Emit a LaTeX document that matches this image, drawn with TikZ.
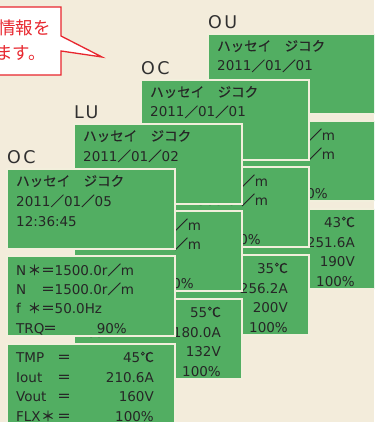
\documentclass[tikz,border=0pt]{standalone}
\usepackage{fontspec}
\setmainfont{DejaVu Sans}
\newfontfamily\jp{Noto Sans CJK JP}[RawFeature={embolden=0.5}]
\newfontfamily\notefont{Noto Sans CJK JP}
\newcommand{\fws}{{\jp ／}}
\newcommand{\fwstar}{{\jp ＊}}
\newcommand{\fweq}{{\jp ＝}}
\newcommand{\degc}{{\jp ℃}}
\definecolor{cream}{HTML}{F3ECDB}
\definecolor{lcdgreen}{HTML}{52AE62}
\definecolor{lcdedge}{HTML}{F2EFDC}
\definecolor{lcdtext}{HTML}{262626}
\definecolor{labeltext}{HTML}{303030}
\definecolor{noteborder}{HTML}{E8262E}
\tikzset{
  panel/.style={fill=lcdgreen,draw=lcdedge,line width=1.5pt},
  lcd/.style={inner sep=0pt,anchor=base west,text=lcdtext,font=\fontsize{13.5}{16}\selectfont},
  lcdval/.style={lcd,anchor=base east},
  stacklabel/.style={inner sep=0pt,anchor=base west,text=labeltext,font=\fontsize{17.5}{20}\selectfont\addfontfeature{LetterSpace=14}},
  notetext/.style={inner sep=0pt,anchor=base east,text=noteborder,font=\fontsize{17.5}{20}\selectfont\notefont}
}
% one stack of three screens: name, x, y, label, date, time, temp, current, voltage
\newcommand{\lcdstack}[9]{%
  \begin{scope}[shift={(#2,#3)}]
    \node[stacklabel] (#1-label) at (0,-5.5) {#4};
    \draw[panel] (0,0) rectangle (168,80);
    \node[lcd] (#1-title) at (9,17) {\jp ハッセイ　ジコク};
    \node[lcd] (#1-date) at (9,37) {#5};
    \node[lcd] (#1-time) at (9,57) {#6};
    \draw[panel] (0,87) rectangle (168,167);
    \node[lcd] (#1-ns) at (9,106) {N};
    \node[lcd] (#1-nsv) at (20.5,106) {\fwstar\fweq 1500.0r\fws m};
    \node[lcd] (#1-n) at (9,125) {N};
    \node[lcd] (#1-nv) at (34,125) {\fweq 1500.0r\fws m};
    \node[lcd] (#1-f) at (9,144) {f};
    \node[lcd] (#1-fv) at (20.5,144) {\fwstar\fweq 50.0Hz};
    \node[lcd] (#1-trq) at (9,164) {TRQ};
    \node[lcd] (#1-trqeq) at (36,164) {\fweq};
    \node[lcdval] (#1-trqv) at (120,164) {90\%};
    \draw[panel] (0,175) rectangle (168,255);
    \node[lcd] (#1-tmp) at (9,193) {TMP};
    \node[lcd] (#1-tmpeq) at (50,193) {\fweq};
    \node[lcdval] (#1-tmpv) at (147,193) {#7};
    \node[lcd] (#1-iout) at (9,213) {Iout};
    \node[lcd] (#1-ioeq) at (50,213) {\fweq};
    \node[lcdval] (#1-iov) at (147,213) {#8};
    \node[lcd] (#1-vout) at (9,232) {Vout};
    \node[lcd] (#1-voeq) at (50,232) {\fweq};
    \node[lcdval] (#1-vov) at (147,232) {#9};
    \node[lcd] (#1-flx) at (9,252) {FLX};
    \node[lcd] (#1-flxst) at (34,252) {\fwstar};
    \node[lcd] (#1-flxeq) at (50,252) {\fweq};
    \node[lcdval] (#1-flxv) at (147,252) {100\%};
  \end{scope}}

\begin{document}
\begin{tikzpicture}[x=1pt,y=-1pt]
\useasboundingbox (0,0) rectangle (374,422);
\clip (0,0) rectangle (374,422);
\fill[cream] (0,0) rectangle (374,422);

% screens, back to front
\lcdstack{ou}{208}{34}{OU}{2011\fws 01\fws 01}{}{43\degc}{251.6A}{190V}
\lcdstack{oc}{141}{80}{OC}{2011\fws 01\fws 01}{}{35\degc}{256.2A}{200V}
\lcdstack{lu}{74}{124}{LU}{2011\fws 01\fws 02}{}{55\degc}{180.0A}{132V}
\lcdstack{now}{7}{169}{OC}{2011\fws 01\fws 05}{12:36:45}{45\degc}{210.6A}{160V}

% callout
\draw[fill=white,draw=noteborder,line width=1.3pt,line join=miter]
  (-10,7) -- (61,7) -- (61,36) -- (102,57) -- (61,51) -- (61,75) -- (-10,75) -- cycle;
\node[notetext] (note-a) at (51,34.5) {情報を};
\node[notetext] (note-b) at (46,60) {ます。};
\end{tikzpicture}
\end{document}
